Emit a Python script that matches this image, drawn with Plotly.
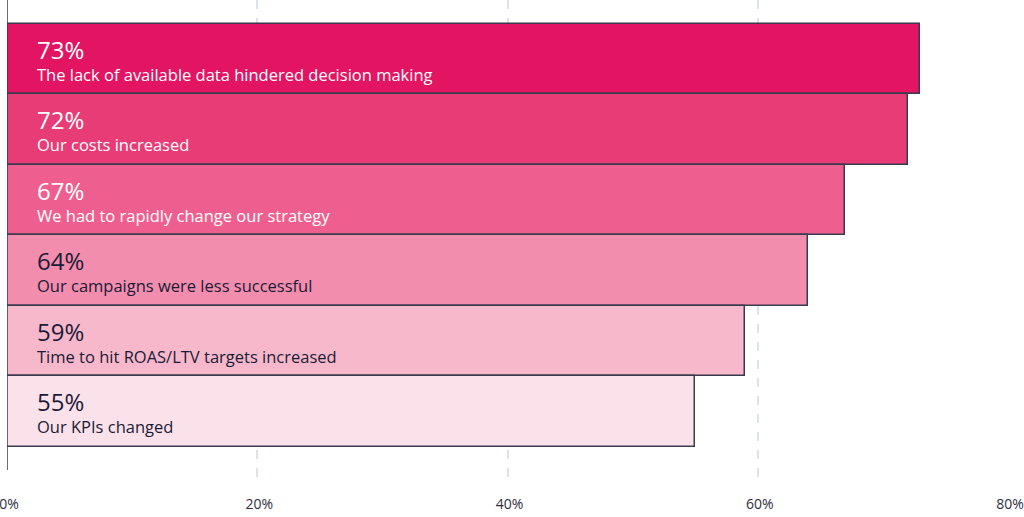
import plotly.graph_objects as go

# --- DATA ---
statements = [
    "The lack of available data hindered decision making",
    "Our costs increased",
    "We had to rapidly change our strategy",
    "Our campaigns were less successful",
    "Time to hit ROAS/LTV targets increased",
    "Our KPIs changed",
]
shares = [73, 72, 67, 64, 59, 55]
x_ticks = [0, 20, 40, 60, 80]
x_tick_labels = ["0%", "20%", "40%", "60%", "80%"]

# --- STYLE ---
bar_colors = ["#E31462", "#E83C76", "#EE5F8F", "#F28DAE", "#F7B8CC", "#FBE2EA"]
text_colors = ["#FFFFFF", "#FFFFFF", "#FFFFFF", "#1B1B36", "#1B1B36", "#1B1B36"]
outline = "#3A3A4E"
FONT = "Open Sans"

fig = go.Figure()
fig.add_trace(go.Bar(
    x=shares,
    y=statements,
    orientation="h",
    width=1,
    marker=dict(color=bar_colors, line=dict(color=outline, width=1.5)),
    hoverinfo="x+y",
))

# labels inside the bars: big percentage on top, statement underneath
annotations = []
for s, v, c in zip(statements, shares, text_colors):
    annotations.append(dict(
        x=0, y=s, xref="x", yref="y", text=f"{v}%",
        xanchor="left", yanchor="middle", xshift=28, yshift=10,
        showarrow=False, font=dict(family=FONT, size=24, color=c),
    ))
    annotations.append(dict(
        x=0, y=s, xref="x", yref="y", text=s,
        xanchor="left", yanchor="middle", xshift=28, yshift=-15,
        showarrow=False, font=dict(family=FONT, size=16.5, color=c),
    ))

fig.update_layout(
    width=1024,
    height=517,
    margin=dict(l=7, r=16, t=0, b=39, autoexpand=False),
    paper_bgcolor="white",
    plot_bgcolor="white",
    showlegend=False,
    bargap=0,
    annotations=annotations,
    shapes=[dict(
        type="line", xref="x", yref="paper",
        x0=0, x1=0, y0=8 / 478, y1=1,
        line=dict(color=outline, width=1.5), layer="above",
    )],
    xaxis=dict(
        range=[0, 80],
        tickvals=x_ticks,
        ticktext=x_tick_labels,
        showgrid=True,
        gridcolor="#DCE1EC",
        griddash="dash",
        gridwidth=1.5,
        zeroline=False,
        showline=False,
        ticks="",
        automargin=False,
        ticklabeloverflow="allow",
        ticklabelstandoff=16,
        ticklabelshift=2,
        tickfont=dict(family=FONT, size=14, color="#2E2E3E"),
        fixedrange=True,
    ),
    yaxis=dict(
        range=[5.94, -0.84],
        showticklabels=False,
        showgrid=False,
        zeroline=False,
        showline=False,
        ticks="",
        automargin=False,
        fixedrange=True,
    ),
)

# the page's default body margin would push the chart 8px right and down
fig.write_html(
    "out.html",
    config={"displayModeBar": False},
    post_script="document.body.style.margin = '0';",
)
